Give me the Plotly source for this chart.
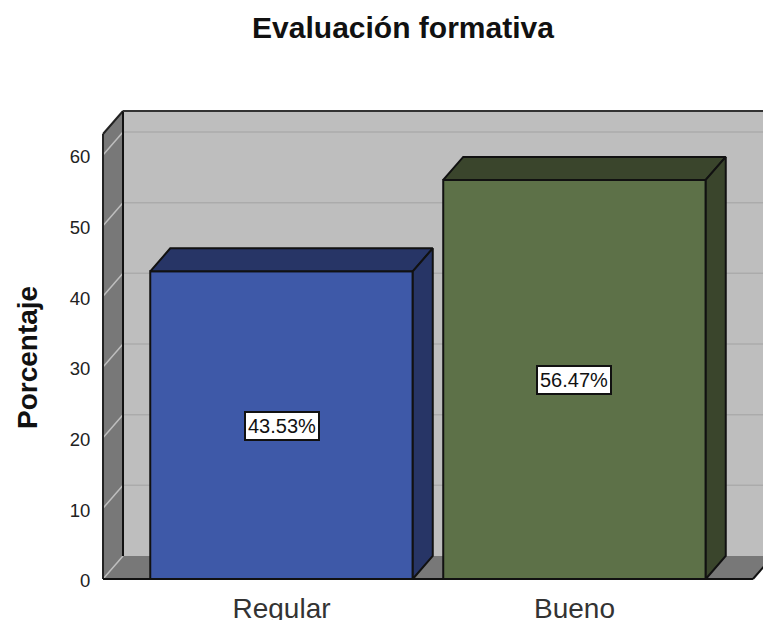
import plotly.graph_objects as go

categories = ["Regular", "Bueno"]
percentages = [43.53, 56.47]
label_text = ["43.53%", "56.47%"]
y_ticks = [0, 10, 20, 30, 40, 50, 60]
front_colors = ["#3E59A8", "#5D7148"]
dark_colors = ["#273566", "#3A452C"]

FONT = "Liberation Sans"
W, H = 763, 620
L, T, B = 100, 105, 38
X_RANGE = [-0.6195, 1.6434]
Y_RANGE = [-0.425, 66.648 + 0.424]
BAR_W = 0.896
DX = 20 / 293          # depth in x-axis units
DY = 23 / 7.067        # depth in y-axis units
x0 = (103 - 281.5) / 293
x_end = (753 - 281.5) / 293
y_top = 62.97
xs = list(range(len(categories)))


def poly(px, py, **kw):
    path = "M" + " L".join(f"{a},{b}" for a, b in zip(px, py)) + " Z"
    return dict(type="path", path=path, xref="x", yref="y", layer="below", **kw)


def seg(xa, ya, xb, yb, color, width):
    return dict(type="line", x0=xa, y0=ya, x1=xb, y1=yb, xref="x", yref="y",
                layer="below", line=dict(color=color, width=width))


shapes = [
    # back wall
    poly([x0 + DX, X_RANGE[1] + 1, X_RANGE[1] + 1, x0 + DX], [DY, DY, y_top + DY, y_top + DY],
         fillcolor="#BEBEBE", line=dict(width=0)),
    # left wall
    poly([x0, x0 + DX, x0 + DX, x0], [0, DY, y_top + DY, y_top],
         fillcolor="#787878", line=dict(width=0)),
    # floor
    poly([x0, x_end, x_end + DX, x0 + DX], [0, 0, DY, DY],
         fillcolor="#787878", line=dict(width=0)),
]
for t in y_ticks:
    shapes.append(seg(x0, t, x0 + DX, t + DY, "#BEBEBE", 1.5))
    if t > 0:
        shapes.append(seg(x0 + DX, t + DY, X_RANGE[1] + 1, t + DY, "#ABABAB", 1.5))
shapes += [
    seg(x0, 0, x0, y_top, "#222222", 2),
    seg(x0, y_top, x0 + DX, y_top + DY, "#222222", 2),
    seg(x0 + DX, DY, x0 + DX, y_top + DY, "#111111", 2),
    seg(x0 + DX, y_top + DY, X_RANGE[1] + 1, y_top + DY, "#333333", 2),
    seg(x0, 0, x_end, 0, "#111111", 2),
    seg(x_end, 0, x_end + DX, DY, "#111111", 2),
]

fig = go.Figure()
fig.add_trace(go.Bar(x=xs, y=percentages, width=BAR_W,
                     marker=dict(color=front_colors, line=dict(color="#111111", width=2)),
                     hoverinfo="skip", showlegend=False))

for x, v, dark in zip(xs, percentages, dark_colors):
    a, b = x - BAR_W / 2, x + BAR_W / 2
    # top face
    fig.add_trace(go.Scatter(x=[a, b, b + DX, a + DX, a], y=[v, v, v + DY, v + DY, v],
                             mode="lines", fill="toself", fillcolor=dark,
                             line=dict(color="#111111", width=2),
                             hoverinfo="skip", showlegend=False))
    # right face
    fig.add_trace(go.Scatter(x=[b, b + DX, b + DX, b, b], y=[0, DY, v + DY, v, 0],
                             mode="lines", fill="toself", fillcolor=dark,
                             line=dict(color="#111111", width=2),
                             hoverinfo="skip", showlegend=False))

annotations = [
    dict(x=x, y=v / 2, xref="x", yref="y", text=t, showarrow=False, yshift=-1,
         font=dict(family=FONT, size=20, color="#111111"),
         bgcolor="white", bordercolor="#111111", borderwidth=2, borderpad=2)
    for x, v, t in zip(xs, percentages, label_text)
]
annotations.append(dict(
    text="<b>Porcentaje</b>", textangle=-90, showarrow=False,
    xref="paper", yref="paper", x=(27 - L) / (W - L), y=(H - B - 358) / (H - T - B),
    xanchor="center", yanchor="middle",
    font=dict(family=FONT, size=28, color="#111111")))

fig.update_layout(
    width=W, height=H, autosize=False,
    margin=dict(l=L, r=0, t=T, b=B, pad=0, autoexpand=False),
    paper_bgcolor="white", plot_bgcolor="white",
    showlegend=False,
    title=dict(text="<b>Evaluación formativa</b>", x=403 / W, xanchor="center",
               xref="container", y=1 - 27 / H, yanchor="middle", automargin=False,
               font=dict(family=FONT, size=30, color="#111111")),
    xaxis=dict(range=X_RANGE, tickmode="array", tickvals=xs, ticktext=categories,
               automargin=False,
               showgrid=False, zeroline=False, showline=False,
               ticks="outside", ticklen=1, tickcolor="rgba(0,0,0,0)",
               tickfont=dict(family=FONT, size=28, color="#333333")),
    yaxis=dict(range=Y_RANGE, tickmode="array", tickvals=y_ticks,
               automargin=False, ticklabelshift=2,
               showgrid=False, zeroline=False, showline=False,
               ticks="outside", ticklen=5, tickcolor="rgba(0,0,0,0)",
               tickfont=dict(family=FONT, size=18.5, color="#222222")),
    shapes=shapes, annotations=annotations,
)

fig.write_html("out.html", post_script="document.body.style.margin='0';", config={"displayModeBar": False})
